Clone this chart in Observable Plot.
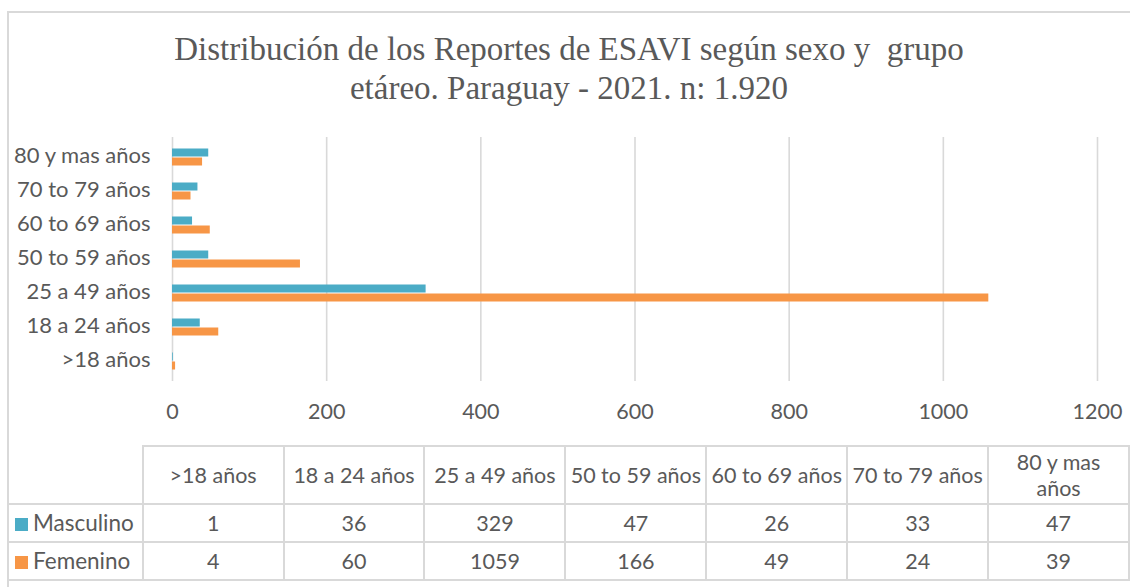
<!DOCTYPE html>
<html><head><meta charset="utf-8">
<script src="https://cdn.jsdelivr.net/npm/d3@7"></script>
<script src="https://cdn.jsdelivr.net/npm/@observablehq/plot@0.6"></script>
<style>
body{margin:0;background:#fff;}
#wrap{position:relative;width:1130px;height:587px;overflow:hidden;background:#fff;font-family:Lato,sans-serif;color:#595959;}
#frame{position:absolute;left:7px;top:11px;width:1200px;height:700px;border-left:2px solid #d9d9d9;border-top:2px solid #d9d9d9;}
#title{position:absolute;left:0;width:1138px;top:30px;text-align:center;font-family:"Liberation Serif",serif;font-size:33px;line-height:39px;color:#595959;white-space:pre;}
#chart{position:absolute;left:0;top:120px;}
#tbl{position:absolute;left:7px;top:445px;border-collapse:collapse;table-layout:fixed;}
#tbl td{border:2px solid #d9d9d9;text-align:center;font-size:21.5px;padding:0;line-height:26px;color:#595959;white-space:pre-line;}
#tbl td.leg{text-align:left;padding-left:8px;border-left:none;font-size:22.5px;}
.sw{display:inline-block;width:13px;height:13px;margin-right:5px;vertical-align:0px;}
</style></head>
<body>
<div id="wrap">
  <div id="frame"></div>
  <div id="title"></div>
  <div id="chart"></div>
  <table id="tbl"></table>
</div>
<script>
const titleLines = ["Distribución de los Reportes de ESAVI según sexo y  grupo", "etáreo. Paraguay - 2021. n: 1.920"];
const categories = [">18 años", "18 a 24 años", "25 a 49 años", "50 to 59 años", "60 to 69 años", "70 to 79 años", "80 y mas años"];
const tableHeaders = [">18 años", "18 a 24 años", "25 a 49 años", "50 to 59 años", "60 to 69 años", "70 to 79 años", "80 y mas\naños"];
const series = ["Masculino", "Femenino"];
const masculino = [1, 36, 329, 47, 26, 33, 47];
const femenino = [4, 60, 1059, 166, 49, 24, 39];
const colors = ["#4BACC6", "#F79646"];
const xTicks = [0, 200, 400, 600, 800, 1000, 1200];

document.getElementById("title").textContent = titleLines.join("\n");

const rowsM = categories.map((c, i) => ({cat: c, value: masculino[i], sex: series[0]}));
const rowsF = categories.map((c, i) => ({cat: c, value: femenino[i], sex: series[1]}));

const chart = Plot.plot({
  width: 1130,
  height: 310,
  marginLeft: 172,
  marginRight: 33,
  marginTop: 17,
  marginBottom: 49,
  x: {domain: [0, 1200], ticks: xTicks, tickFormat: d => String(d), tickSize: 0, tickPadding: 22, label: null},
  y: {domain: categories.slice().reverse(), padding: 0, axis: null, label: null},
  color: {domain: series, range: colors},
  style: {fontFamily: "Lato, sans-serif", fontSize: "21.5px", color: "#595959", background: "transparent", overflow: "visible"},
  marks: [
    Plot.ruleX(xTicks, {stroke: "#d9d9d9", strokeWidth: 1.6}),
    Plot.barX(rowsM, {y: "cat", x: "value", fill: "sex", insetTop: 8.5, insetBottom: 17.5}),
    Plot.barX(rowsF, {y: "cat", x: "value", fill: "sex", insetTop: 17.5, insetBottom: 8.5}),
    Plot.text(categories, {y: d => d, x: 0, text: d => d, textAnchor: "end", dx: -22, dy: -2, fill: "#595959", fontSize: 22})
  ]
});
document.getElementById("chart").appendChild(chart);

// data table
const tbl = d3.select("#tbl");
const cg = tbl.append("colgroup");
cg.append("col").style("width", "136px");
categories.forEach(() => cg.append("col").style("width", "142px"));
const hr = tbl.append("tr").style("height", "58px");
hr.append("td").style("border-top", "none").style("border-left", "none");
tableHeaders.forEach(h => hr.append("td").text(h));
[masculino, femenino].forEach((vals, k) => {
  const tr = tbl.append("tr").style("height", "38px");
  const lc = tr.append("td").attr("class", "leg");
  lc.append("span").attr("class", "sw").style("background", colors[k]);
  lc.append("span").text(series[k]);
  vals.forEach(v => tr.append("td").text(v));
});
</script>
</body></html>
